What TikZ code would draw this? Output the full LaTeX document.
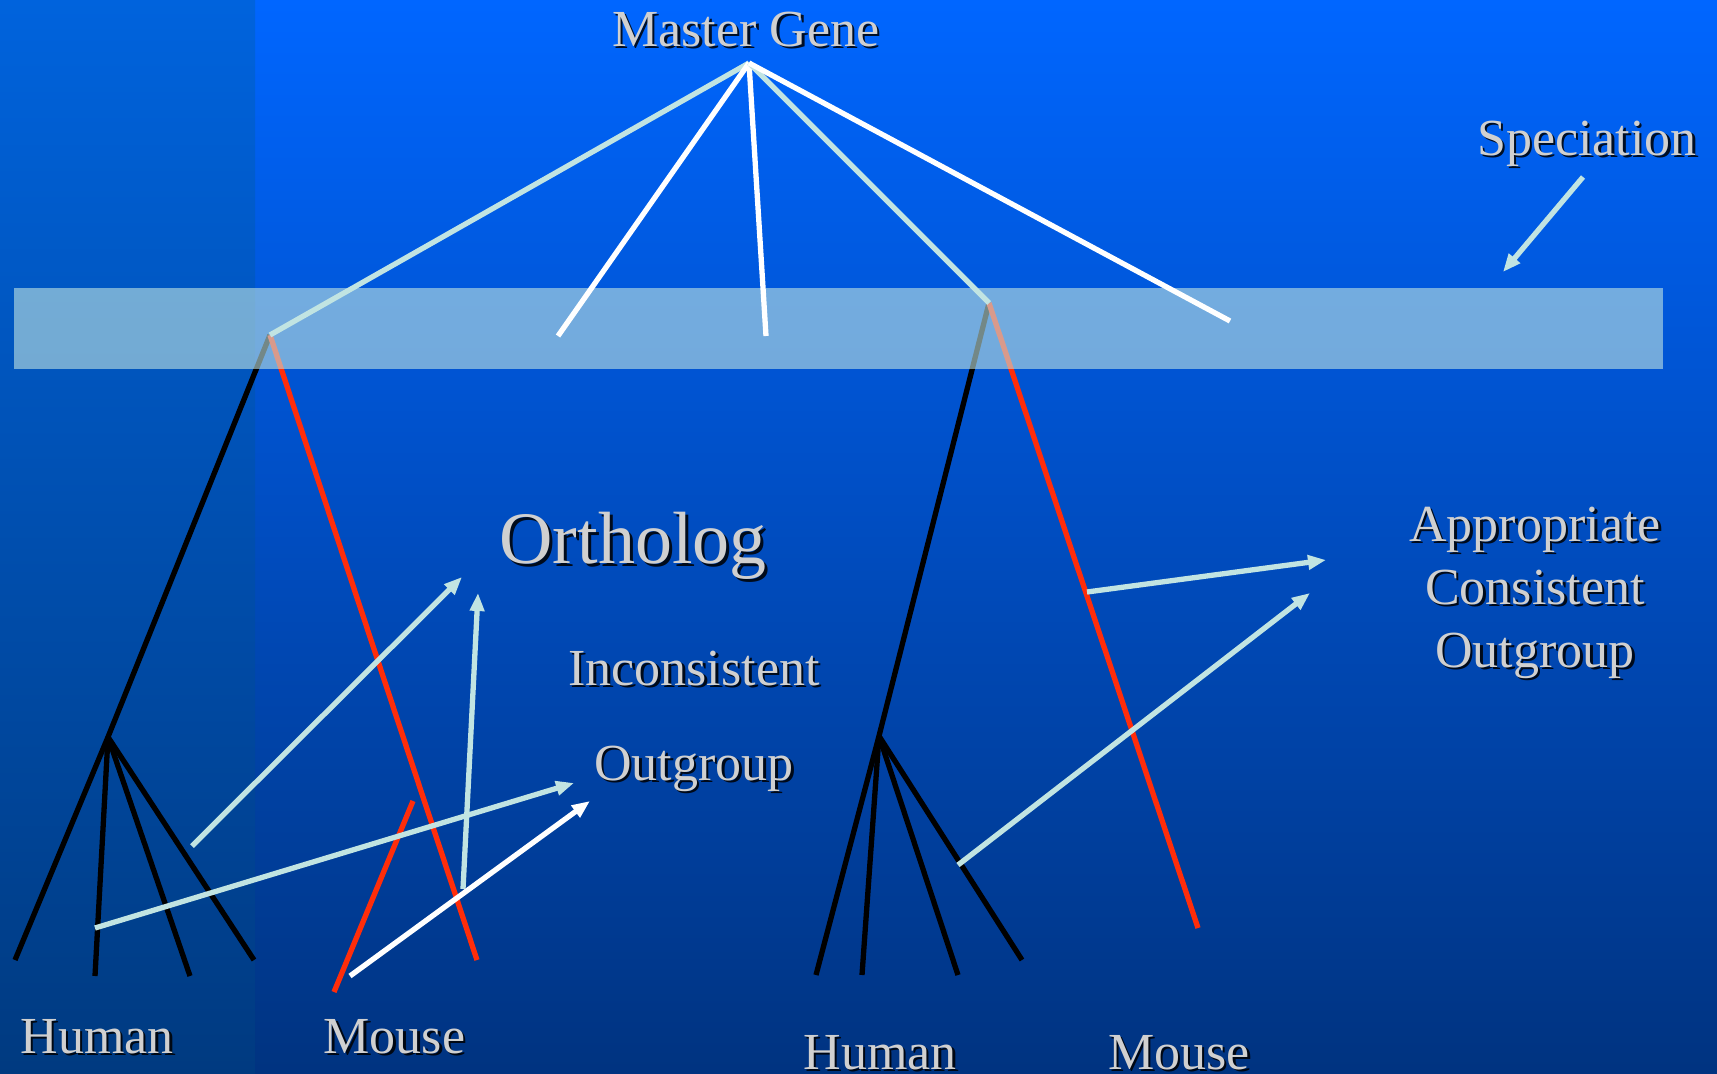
\documentclass[tikz,border=0pt]{standalone}
\usepackage{fontspec}
\setmainfont{Liberation Serif}
\usetikzlibrary{arrows.meta}
\definecolor{bgtop}{RGB}{0,102,255}
\definecolor{bgbot}{RGB}{0,51,128}
\definecolor{striptop}{RGB}{0,99,221}
\definecolor{stripbot}{RGB}{0,58,128}
\definecolor{lcyan}{RGB}{193,228,226}
\definecolor{lred}{RGB}{255,45,10}
\definecolor{txtgray}{RGB}{208,208,208}
\tikzset{
  lbl/.style={font=\fontsize{52}{62}\selectfont, text=txtgray, anchor=base, inner sep=0pt},
  shd/.style={lbl, text=black, opacity=0.85},
  big/.style={font=\fontsize{74}{86}\selectfont},
  tline/.style={line width=5.3pt, black},
  rline/.style={line width=5.3pt, lred},
  cline/.style={line width=5.3pt, lcyan},
  wline/.style={line width=5.3pt, white},
  arr/.style={-{Triangle[length=18pt,width=14pt]}},
}
\begin{document}
\begin{tikzpicture}[x=1pt,y=-1pt]
\useasboundingbox (0,0) rectangle (1717,1074);
% background
\shade[top color=bgtop, bottom color=bgbot] (0,0) rectangle (1717,1074);
\shade[top color=striptop, bottom color=stripbot] (0,0) rectangle (255,1074);

% coordinates
\coordinate (mg) at (749,63);
\coordinate (sL) at (270,335);
\coordinate (sR) at (989,303);
\coordinate (w1) at (558,336);
\coordinate (w2) at (766,336);
\coordinate (w3) at (1230,321);
\coordinate (nL) at (108,737);
\coordinate (hL1) at (15,960);
\coordinate (hL2) at (95,976);
\coordinate (hL3) at (190,976);
\coordinate (hL4) at (254,960);
\coordinate (mL1) at (477,960);
\coordinate (mL2a) at (413,801);
\coordinate (mL2b) at (334,992);
\coordinate (nR) at (879,736);
\coordinate (hR1) at (816,975);
\coordinate (hR2) at (862,975);
\coordinate (hR3) at (958,975);
\coordinate (hR4) at (1022,960);
\coordinate (mR) at (1198,928);
% arrow ends
\coordinate (a1s) at (192,846);  \coordinate (a1e) at (462,577);
\coordinate (a2s) at (463,889);  \coordinate (a2e) at (478,593);
\coordinate (a3s) at (95,928);   \coordinate (a3e) at (574,783);
\coordinate (a4s) at (350,976);  \coordinate (a4e) at (590,801);
\coordinate (a5s) at (1087,592); \coordinate (a5e) at (1326,560);
\coordinate (a6s) at (958,865);  \coordinate (a6e) at (1310,593);
\coordinate (a7s) at (1583,177); \coordinate (a7e) at (1503,272);

% trees
\draw[tline] (sL) -- (nL) -- (hL1);
\draw[tline] (nL) -- (hL2);
\draw[tline] (nL) -- (hL3);
\draw[tline] (nL) -- (hL4);
\draw[rline] (sL) -- (mL1);
\draw[rline] (mL2a) -- (mL2b);
\draw[tline] (sR) -- (nR) -- (hR1);
\draw[tline] (nR) -- (hR2);
\draw[tline] (nR) -- (hR3);
\draw[tline] (nR) -- (hR4);
\draw[rline] (sR) -- (mR);

% speciation band
\fill[lcyan, opacity=0.6] (14,288) rectangle (1663,369);

% master gene lines
\draw[cline] (mg) -- (sL);
\draw[wline] (mg) -- (w1);
\draw[wline] (mg) -- (w2);
\draw[cline] (mg) -- (sR);
\draw[wline] (mg) -- (w3);

% arrows
\draw[cline, arr] (a1s) -- (a1e);
\draw[cline, arr] (a2s) -- (a2e);
\draw[cline, arr] (a3s) -- (a3e);
\draw[wline, arr] (a4s) -- (a4e);
\draw[cline, arr] (a5s) -- (a5e);
\draw[cline, arr] (a6s) -- (a6e);
\draw[cline, arr] (a7s) -- (a7e);

% labels (shadow + text)
\node[shd] (mgS) at (748.5,48.5) {Master Gene};
\node[lbl] (mgT) at (746,46) {Master Gene};
\node[shd] (spS) at (1589.5,157.5) {Speciation};
\node[lbl] (spT) at (1587,155) {Speciation};
\node[shd, big] (orS) at (636,566) {Ortholog};
\node[lbl, big] (orT) at (633,563) {Ortholog};
\node[shd] (inS) at (696.5,687.5) {Inconsistent};
\node[lbl] (inT) at (694,685) {Inconsistent};
\node[shd] (ogS) at (696.5,782.5) {Outgroup};
\node[lbl] (ogT) at (694,780) {Outgroup};
\node[shd] (apS) at (1537.5,543.5) {Appropriate};
\node[lbl] (apT) at (1535,541) {Appropriate};
\node[shd] (coS) at (1537.5,606.5) {Consistent};
\node[lbl] (coT) at (1535,604) {Consistent};
\node[shd] (og2S) at (1537.5,669.5) {Outgroup};
\node[lbl] (og2T) at (1535,667) {Outgroup};
\node[shd] (huS) at (99.5,1055.5) {Human};
\node[lbl] (huT) at (97,1053) {Human};
\node[shd] (moS) at (397,1055.5) {Mouse};
\node[lbl] (moT) at (394.5,1053) {Mouse};
\node[shd] (hu2S) at (882.5,1071.5) {Human};
\node[lbl] (hu2T) at (880,1069) {Human};
\node[shd] (mo2S) at (1181.5,1071.5) {Mouse};
\node[lbl] (mo2T) at (1179,1069) {Mouse};
\end{tikzpicture}
\end{document}
